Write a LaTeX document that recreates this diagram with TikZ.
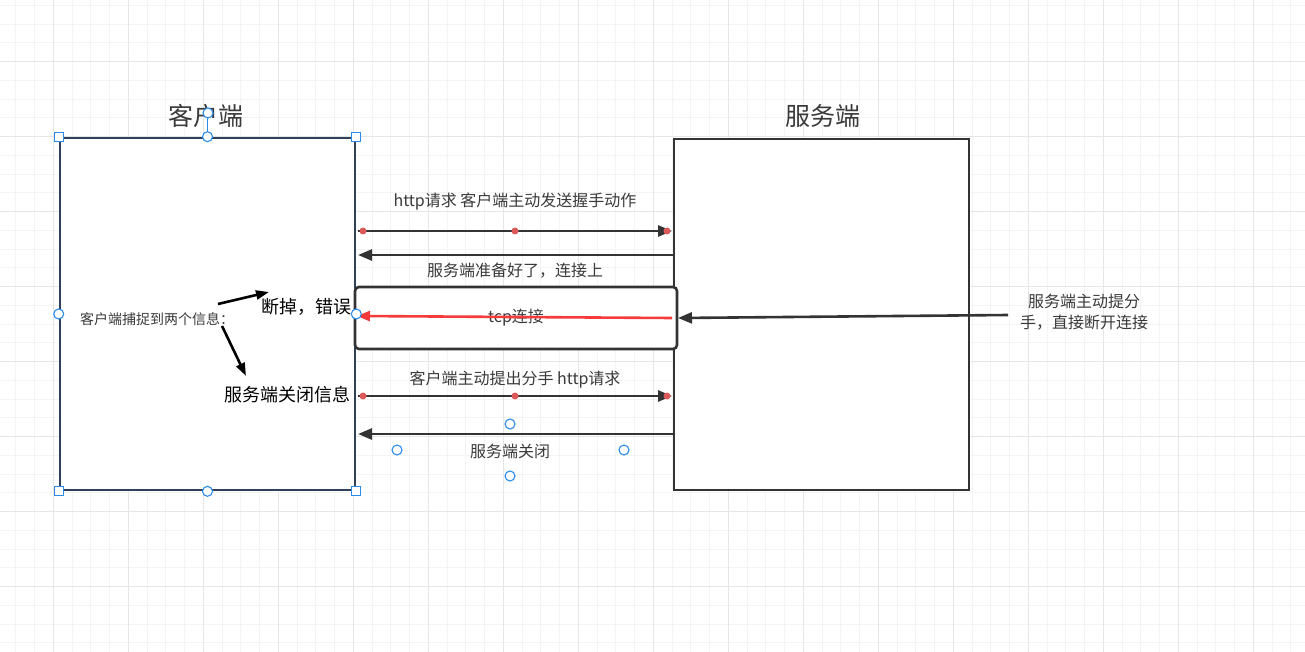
\documentclass[tikz,border=0pt]{standalone}
\usepackage{fontspec}
\setmainfont{Noto Sans CJK SC}
\usetikzlibrary{arrows.meta}
\definecolor{gridminor}{HTML}{F4F4F4}
\definecolor{gridmajor}{HTML}{E6E6E6}
\definecolor{clientline}{HTML}{2F4159}
\definecolor{serverline}{HTML}{333333}
\definecolor{labelgray}{HTML}{3A3A3A}
\definecolor{dotred}{HTML}{DD5A5A}
\definecolor{tcpred}{HTML}{F53B3B}
\definecolor{handleblue}{HTML}{2C8CEB}
\begin{document}
\begin{tikzpicture}[x=1pt,y=-1pt]
\tikzstyle{arrow}=[draw,line width=2.6pt,color=serverline,-{Triangle[length=14pt,width=11pt]}]
\tikzstyle{small arrow}=[draw,line width=2.6pt,color=black,-{Triangle[length=13pt,width=9pt]}]
\tikzstyle{box}=[draw,line width=2.6pt,inner sep=0pt,fill=white]
\tikzstyle{title}=[text=labelgray,font=\fontsize{25}{28}\selectfont,inner sep=0pt]
\tikzstyle{msg}=[text=labelgray,font=\fontsize{16}{19}\selectfont,inner sep=0pt]
\tikzstyle{handle}=[circle,draw=handleblue,fill=white,line width=1.1pt,inner sep=0pt,minimum size=10pt]
\tikzstyle{corner}=[rectangle,draw=handleblue,fill=white,line width=1.1pt,inner sep=0pt,minimum size=9pt]
\tikzstyle{dot}=[circle,fill=dotred,inner sep=0pt,minimum size=7pt]
% canvas grid
\useasboundingbox[fill=white](0,0)rectangle(1305,652);
\foreach \i in {0,...,69}{
  \draw[gridminor,line width=1pt]({15.8+\i*18.75},0)--++(0,652);
}
\foreach \i in {0,...,34}{
  \draw[gridminor,line width=1pt](0,{5.4+\i*18.75})--++(1305,0);
}
\foreach \i in {0,...,17}{
  \draw[gridmajor,line width=1pt]({53.3+\i*75},0)--++(0,652);
}
\foreach \i in {0,...,8}{
  \draw[gridmajor,line width=1pt](0,{61.7+\i*75})--++(1305,0);
}
% the two ends
\node[box,draw=clientline,minimum width=295pt,minimum height=352pt](client)at(207.5,314){};
\node[box,draw=serverline,minimum width=295pt,minimum height=351pt](server)at(821.5,314.5){};
\node[title](clienttitle)at(206,116){客户端};
\node[title](servertitle)at(823,116){服务端};
% tcp connection
\node[box,draw=serverline,rounded corners=4pt,minimum width=322pt,minimum height=62pt,msg](tcp)at(516,318){tcp连接};
% messages
\coordinate(req1c)at(358,231);\coordinate(req1s)at(672,231);
\coordinate(ack1s)at(674,255);\coordinate(ack1c)at(358,255);
\coordinate(req2c)at(358,396);\coordinate(req2s)at(672,396);
\coordinate(ack2s)at(674,434);\coordinate(ack2c)at(358,434);
\path[arrow](req1c)--(req1s)
  node[dot,at start,xshift=5pt]{}node[dot,midway](req1mid){}node[dot,at end,xshift=-5pt]{};
\node[msg](req1)at(515,202){http请求 客户端主动发送握手动作};
\path[arrow](ack1s)--(ack1c);
\node[msg](ack1)at(515,271){服务端准备好了，连接上};
\path[arrow](req2c)--(req2s)
  node[dot,at start,xshift=5pt]{}node[dot,midway](req2mid){}node[dot,at end,xshift=-5pt]{};
\node[msg](req2)at(515,380){客户端主动提出分手 http请求};
\path[arrow](ack2s)--(ack2c);
\node[msg](ack2)at(510,451){服务端关闭};
% broken connection
\coordinate(tcpfrom)at(672,318);\coordinate(tcpto)at(357,316);
\path[draw,line width=2.6pt,color=tcpred,-{Triangle[length=13pt,width=10pt]}](tcpfrom)--(tcpto);
\node[msg,align=center](closenote)at(1084,312){服务端主动提分\\[2pt]手，直接断开连接};
\coordinate(notefrom)at(1008,315);\coordinate(noteto)at(678,318);
\path[arrow](notefrom)--(noteto);
% what the client sees
\node[text=labelgray,font=\fontsize{14}{17}\selectfont,inner sep=0pt](catch)at(157,319){客户端捕捉到两个信息：};
\node[font=\fontsize{18}{21}\selectfont,inner sep=0pt](broken)at(306,307){断掉，错误};
\node[font=\fontsize{18}{21}\selectfont,inner sep=0pt](closed)at(287,395){服务端关闭信息};
\coordinate(catchup)at(218,304);\coordinate(brokenin)at(269,292);
\coordinate(catchdown)at(222,326);\coordinate(closedin)at(246,376);
\path[small arrow](catchup)--(brokenin);
\path[small arrow](catchdown)--(closedin);
% selection handles
\draw[handleblue,line width=1.1pt](client.north)--++(0,-25);
\node[handle](rot)at(208,113){};
\foreach \a in {north west,north east,south west,south east}{
  \node[corner]at(client.\a){};
}
\foreach \a in {north,south,west,east}{
  \node[handle]at(client.\a){};
}
\node[handle](h1)at(510,424){};
\node[handle](h2)at(397,450){};
\node[handle](h3)at(624,450){};
\node[handle](h4)at(510,476){};
\end{tikzpicture}
\end{document}
